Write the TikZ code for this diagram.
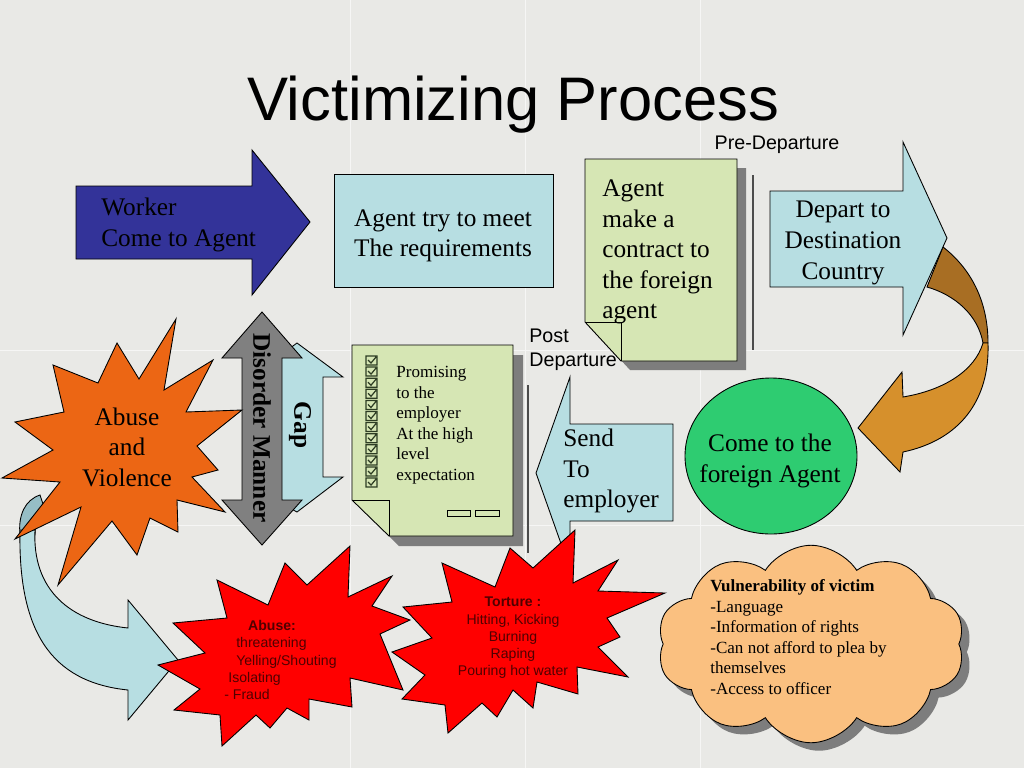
\documentclass[tikz,border=0pt]{standalone}
\usepackage{fontspec}
\setmainfont{Liberation Serif}
\setsansfont{Liberation Sans}
\usetikzlibrary{shapes.geometric,shapes.symbols}
\definecolor{paper}{RGB}{233,233,230}
\definecolor{navyarrow}{RGB}{51,51,153}
\definecolor{paleblue}{RGB}{183,222,226}
\definecolor{backblue}{RGB}{150,190,198}
\definecolor{notegreen}{RGB}{214,230,180}
\definecolor{leafgreen}{RGB}{46,204,113}
\definecolor{burnt}{RGB}{236,102,20}
\definecolor{brownback}{RGB}{168,110,35}
\definecolor{brownfront}{RGB}{214,144,44}
\definecolor{peach}{RGB}{250,192,128}
\definecolor{redtext}{RGB}{80,0,0}
\definecolor{shadowgray}{RGB}{125,125,125}
\definecolor{checkink}{RGB}{45,60,35}
\begin{document}
\begin{tikzpicture}[x=0.02cm,y=-0.02cm,
    outline/.style={draw=black,line width=0.5pt},
    serifbig/.style={font=\fontsize{14.4}{17.4}\selectfont,inner sep=0pt},
    serifsmall/.style={font=\fontsize{9.7}{11.7}\selectfont,inner sep=0pt,align=left},
    sanslabel/.style={font=\sffamily\fontsize{11.2}{13.6}\selectfont,inner sep=0pt,align=left},
    burst/.style={outline,fill=red},
    bursttext/.style={font=\sffamily\fontsize{8}{9.8}\selectfont,text=redtext,inner sep=0pt},
    puffy/.style={cloud,cloud puffs=10,cloud puff arc=115,aspect=1.55,minimum width=6.15cm,minimum height=3.95cm}]
    \useasboundingbox (0,0) rectangle (1024,768);
    %% Background
    \fill[paper] (0,0) rectangle (1024,768);
    \draw[white,opacity=0.6,line width=0.4pt] (350,0) -- (350,768) (525,0) -- (525,768) (700,0) -- (700,768)
        (0,350) -- (1024,350) (0,525) -- (1024,525);
    %% Title
    \node[font=\sffamily\fontsize{35}{42}\selectfont,anchor=base,inner sep=0pt] (title) at (513,120) {Victimizing Process};
    %% Worker arrow
    \draw[outline,fill=navyarrow] (76,186) -- (252,186) -- (252,150) -- (310,222) -- (252,295) -- (252,259) -- (76,259) -- cycle;
    \node[serifbig,align=left,anchor=west] (worker) at (101,225) {Worker\\Come to Agent};
    %% Agent box
    \node[rectangle,outline,fill=paleblue,minimum width=4.38cm,minimum height=2.26cm] (meet) at (443.5,230.5) {};
    \node[serifbig,align=center] (meettext) at (443,236) {Agent try to meet\\The requirements};
    %% Contract note
    \fill[shadowgray,shift={(9,9)}] (585,159) -- (737,159) -- (737,361) -- (621,361) -- (585,322) -- cycle;
    \draw[outline,fill=notegreen] (585,159) -- (737,159) -- (737,361) -- (621,361) -- (585,322) -- cycle;
    \draw[outline] (585,322) -- (621,322) -- (621,361);
    \node[serifbig,align=left,anchor=west] (contract) at (602,252) {Agent\\make a\\contract to\\the foreign\\agent};
    \draw[gray!60!black,line width=0.9pt] (753,175) -- (753,350);
    \node[sanslabel] (pre) at (777,145) {Pre-Departure};
    %% Brown turn arrow
    \draw[outline,fill=brownback] (943,247) .. controls (970,268) and (988,300) .. (988,343) -- (983,343) .. controls (978,315) and (955,295) .. (927,287) -- cycle;
    \draw[outline,fill=leafgreen] (771,456) ellipse (86 and 78);
    \node[serifbig,align=center] (foreign) at (770,461) {Come to the\\foreign Agent};
    \draw[outline,fill=brownfront] (988,343) .. controls (990,400) and (960,440) .. (903,452) -- (900,472) -- (858,428) -- (902,372) -- (903,397) .. controls (945,390) and (975,370) .. (983,343) -- cycle;
    %% Depart arrow
    \draw[outline,fill=paleblue] (770,191) -- (903,191) -- (903,142) -- (947,238) -- (903,335) -- (903,287) -- (770,287) -- cycle;
    \node[serifbig,align=center] (depart) at (843,243) {Depart to\\Destination\\Country};
    %% Send arrow
    \node[sanslabel,anchor=west] (post) at (529,350) {Post\\Departure};
    \draw[outline,fill=paleblue] (673,424) -- (570,424) -- (570,377) -- (536,473) -- (570,569) -- (570,521) -- (673,521) -- cycle;
    \node[serifbig,align=left,anchor=west] (send) at (563,471) {Send\\To\\employer};
    \draw[gray!60!black,line width=0.9pt] (528,385) -- (528,553);
    %% Checklist note
    \fill[shadowgray,shift={(10,10)}] (352,345) -- (513,345) -- (513,536) -- (389,536) -- (352,500) -- cycle;
    \draw[outline,fill=notegreen] (352,345) -- (513,345) -- (513,536) -- (389,536) -- (352,500) -- cycle;
    \draw[outline] (352,500) -- (389,500) -- (389,536);
    \foreach \i in {0,...,11}
        \draw[checkink,line width=0.7pt] (366,{356+11.1*\i}) rectangle ++(11,9) (368,{360+11.1*\i}) -- ++(3,3) -- ++(5,-6);
    \node[serifsmall,anchor=west] (promise) at (396,425) {Promising\\to the\\employer\\At the high\\level\\expectation};
    \draw[outline,fill=notegreen] (447,510) rectangle (470,516) (475,510) rectangle (499,516);
    %% Gap and disorder
    \draw[outline,fill=paleblue] (270,363) -- (297,343) -- (343,377) -- (323,377) -- (323,477) -- (343,477) -- (297,512) -- (270,497) -- cycle;
    \node[font=\bfseries\fontsize{14.4}{17.4}\selectfont,rotate=-90,inner sep=0pt] (gap) at (300,425) {Gap};
    \draw[outline,fill=gray] (262,312) -- (302,358) -- (282,358) -- (282,500) -- (302,500) -- (262,545) -- (222,500) -- (242,500) -- (242,358) -- (222,358) -- cycle;
    \node[font=\bfseries\fontsize{14.4}{17.4}\selectfont,rotate=-90,inner sep=0pt] (disorder) at (262,428) {Disorder Manner};
    %% Blue turn arrow
    \draw[outline,fill=backblue] (20,535) .. controls (18,515) and (25,500) .. (40,495) -- (45,510) .. controls (38,515) and (35,525) .. (35,535) -- cycle;
    \draw[outline,fill=paleblue] (35,530) .. controls (32,590) and (70,622) .. (128,628) -- (128,600) -- (178,660) -- (128,720) -- (128,690) .. controls (50,682) and (18,630) .. (20,530) -- cycle;
    %% Abuse and violence burst
    \draw[outline,fill=burnt] (176,319) -- (164,390) -- (213,360) -- (186,412) -- (242,410) -- (197,446) -- (218,470) -- (192,477) -- (225,512) -- (177,500) -- (178,532) -- (150,518) -- (137,555) -- (112,521) -- (58,585) -- (81,507) -- (15,539) -- (60,482) -- (2,478) -- (53,450) -- (15,422) -- (64,412) -- (53,365) -- (98,383) -- (117,343) -- (139,379) -- cycle;
    \node[serifbig,align=center] (violence) at (127,447) {Abuse\\and\\Violence};
    %% Red bursts
    \draw[burst] (350,546) -- (348,597) -- (392,576) -- (372,606) -- (410,620) -- (380,634) -- (403,690) -- (350,678) -- (352,707) -- (309,699) -- (309,720) -- (287,708) -- (270,728) -- (256,715) -- (222,746) -- (220,715) -- (174,710) -- (200,689) -- (158,665) -- (205,653) -- (173,623) -- (227,618) -- (217,580) -- (268,605) -- (285,563) -- (307,585) -- cycle;
    \node[bursttext,align=left,anchor=west] (abuselist) at (224,660) {\hspace*{13.6pt}\textbf{Abuse:}\\\hspace*{6.8pt}threatening\\\hspace*{6.8pt}Yelling/Shouting\\\hspace*{2.3pt}Isolating\\- Fraud};
    \draw[burst] (575,530) -- (573,583) -- (618,560) -- (598,591) -- (665,593) -- (607,618) -- (620,637) -- (598,647) -- (628,677) -- (577,667) -- (578,694) -- (537,682) -- (533,708) -- (513,690) -- (497,717) -- (482,703) -- (448,733) -- (445,705) -- (402,699) -- (425,675) -- (392,652) -- (432,638) -- (403,607) -- (452,602) -- (442,563) -- (495,587) -- (510,548) -- (533,568) -- cycle;
    \node[bursttext,align=center] (torture) at (513,638) {\textbf{Torture :}\\Hitting, Kicking\\Burning\\Raping\\Pouring hot water};
    %% Vulnerability cloud
    \node[puffy,fill=shadowgray] (vulnshade) at (819,652) {};
    \node[puffy,outline,fill=peach] (vuln) at (811,644) {};
    \node[serifsmall,anchor=west] (vulntext) at (710,637) {\textbf{Vulnerability of victim}\\-Language\\-Information of rights\\-Can not afford to plea by\\themselves\\-Access to officer};
\end{tikzpicture}
\end{document}
